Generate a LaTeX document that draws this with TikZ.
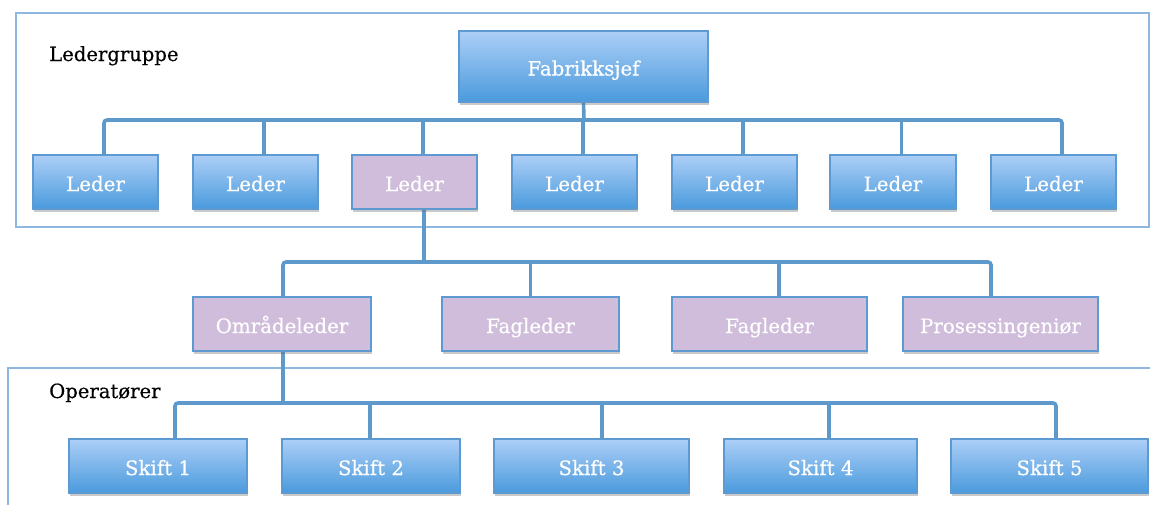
\documentclass[tikz,border=0pt]{standalone}
\usepackage{fontspec}
\setmainfont{DejaVu Serif}
\newfontfamily\chartfont{DejaVu Serif}[FakeBold=0.45]
\usetikzlibrary{shadows,backgrounds}
\definecolor{boxtop}{HTML}{ACCFF7}
\definecolor{boxbot}{HTML}{4A9ADC}
\definecolor{boxline}{HTML}{5E9AD2}
\definecolor{lilac}{HTML}{CFBDDB}
\definecolor{wirecol}{HTML}{5E99CC}
\definecolor{framecol}{HTML}{8EB8E0}

\begin{document}
\begin{tikzpicture}[x=1pt,y=-1pt,
  box/.style={draw=boxline, line width=1.1pt, minimum height=54pt, inner sep=0pt,
    text height=21pt, text depth=3pt,
    text=white, font=\chartfont\fontsize{19.8}{22}\selectfont,
    drop shadow={opacity=0.35, shadow xshift=1pt, shadow yshift=-2.5pt, fill=black!60}},
  bluebox/.style={box, top color=boxtop, bottom color=boxbot},
  lilacbox/.style={box, fill=lilac},
  wire/.style={draw=wirecol, line width=3.6pt, rounded corners=3pt},
  frame/.style={draw=framecol, line width=1.6pt},
  grouplabel/.style={anchor=base west, inner sep=0pt,
    font=\chartfont\fontsize{19.6}{22}\selectfont}
]
\useasboundingbox (0,0) rectangle (1150,504);

% top level
\node[bluebox, minimum width=249pt, minimum height=71pt] (fab) at (583.5,66.5) {Fabrikksjef};

% management row
\node[bluebox,  minimum width=125pt] (L1) at (95.5,182)  {Leder};
\node[bluebox,  minimum width=125pt] (L2) at (255.5,182) {Leder};
\node[lilacbox, minimum width=125pt] (L3) at (414.5,182) {Leder};
\node[bluebox,  minimum width=125pt] (L4) at (574.5,182) {Leder};
\node[bluebox,  minimum width=125pt] (L5) at (734.5,182) {Leder};
\node[bluebox,  minimum width=126pt] (L6) at (893,182)   {Leder};
\node[bluebox,  minimum width=125pt] (L7) at (1053.5,182){Leder};

% middle row
\node[lilacbox, minimum width=178pt] (omr)  at (282,324)    {Områdeleder};
\node[lilacbox, minimum width=177pt] (fag1) at (530.5,324)  {Fagleder};
\node[lilacbox, minimum width=195pt] (fag2) at (769.5,324)  {Fagleder};
\node[lilacbox, minimum width=195pt] (pros) at (1000.5,324) {Prosessingeniør};

% shift row
\node[bluebox, minimum width=178pt] (s1) at (158,466)    {Skift 1};
\node[bluebox, minimum width=178pt] (s2) at (371,466)    {Skift 2};
\node[bluebox, minimum width=195pt] (s3) at (591.5,466)  {Skift 3};
\node[bluebox, minimum width=193pt] (s4) at (820.5,466)  {Skift 4};
\node[bluebox, minimum width=197pt] (s5) at (1049.5,466) {Skift 5};

% group labels
\node[grouplabel] (lg) at (49,61)  {Ledergruppe};
\node[grouplabel] (op) at (49,398) {Operatører};

\coordinate (b1) at (584,120);
\coordinate (b2) at (424,262);
\coordinate (b3) at (283,403);

\begin{scope}[on background layer]
  \fill[white] (0,0) rectangle (1150,504);
  \draw[frame] (16,13) rectangle (1149,227);
  \draw[frame] (8,368) rectangle (1170,530);

  % first level bus
  \draw[wire] (fab.south) -- (b1);
  \draw[wire] ([xshift=8.5pt]L1.north) |- (b1) -| ([xshift=8.5pt]L7.north);
  \foreach \n in {L2,L3,L4,L5,L6}
    \draw[wire] ([xshift=8.5pt]\n.north) -- ([xshift=8.5pt]\n.north |- b1);

  % second level bus
  \draw[wire] ([xshift=9.5pt]L3.south) -- (b2);
  \draw[wire] ([xshift=1pt]omr.north) |- (b2) -| ([xshift=-9.5pt]pros.north);
  \draw[wire] (fag1.north) -- (fag1.north |- b2);
  \draw[wire] ([xshift=9.5pt]fag2.north) -- ([xshift=9.5pt]fag2.north |- b2);

  % third level bus
  \draw[wire] ([xshift=1pt]omr.south) -- (b3);
  \draw[wire] ([xshift=17pt]s1.north) |- (b3) -| ([xshift=6.5pt]s5.north);
  \draw[wire] ([xshift=-1pt]s2.north) -- ([xshift=-1pt]s2.north |- b3);
  \draw[wire] ([xshift=10.5pt]s3.north) -- ([xshift=10.5pt]s3.north |- b3);
  \draw[wire] ([xshift=8.5pt]s4.north) -- ([xshift=8.5pt]s4.north |- b3);
\end{scope}
\end{tikzpicture}
\end{document}
